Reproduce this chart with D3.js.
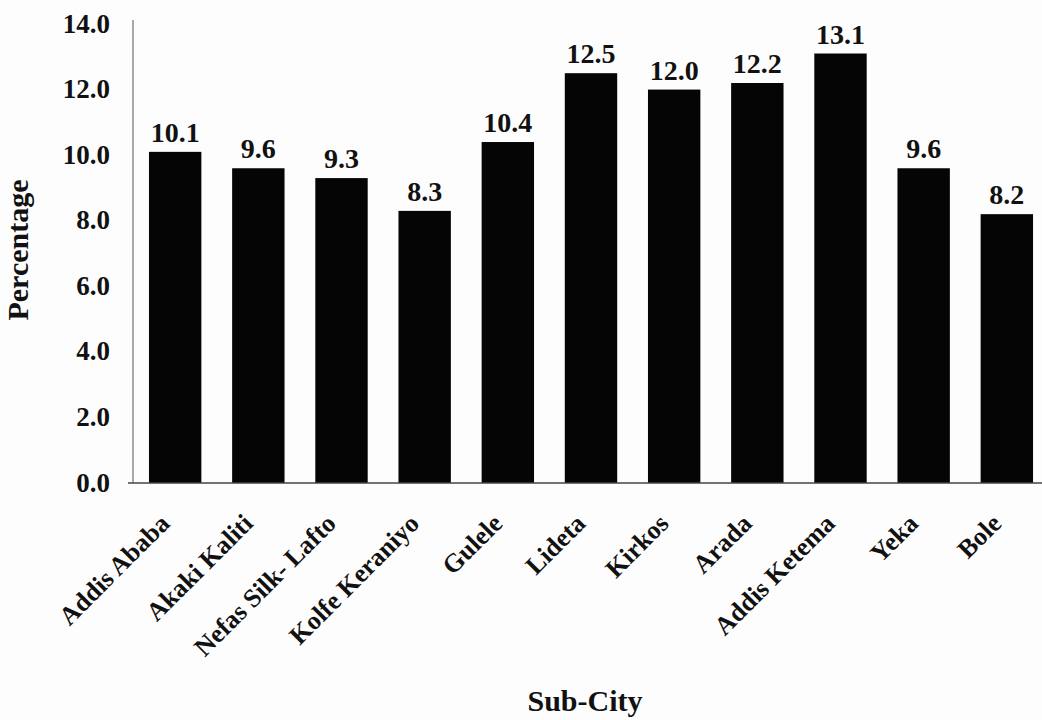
<!DOCTYPE html>
<html>
<head>
<meta charset="utf-8">
<script src="https://cdn.jsdelivr.net/npm/d3@7"></script>
<style>
  body { margin: 0; background: #fdfdfd; }
  text { font-family: "Liberation Serif", "Times New Roman", serif; font-weight: bold; fill: #111; }
</style>
</head>
<body>
<div id="chart"></div>
<script>
// sub-cities and their percentage
var subCities = ["Addis Ababa", "Akaki Kaliti", "Nefas Silk- Lafto", "Kolfe Keraniyo", "Gulele",
  "Lideta", "Kirkos", "Arada", "Addis Ketema", "Yeka", "Bole"];
var percentages = [10.1, 9.6, 9.3, 8.3, 10.4, 12.5, 12.0, 12.2, 13.1, 9.6, 8.2];
var yTicks = [0, 2, 4, 6, 8, 10, 12, 14];

var width = 1042, height = 720;
var originX = 133, baseY = 483;

var svg = d3.select("#chart")
  .append("svg")
  .attr("width", width)
  .attr("height", height);

var x = d3.scaleBand()
  .domain(subCities)
  .range([134, 1048])
  .paddingInner(0.37)
  .paddingOuter(0.18);

var y = d3.scaleLinear()
  .domain([0, 14])
  .range([baseY, 24]);

// Y axis
var yAxis = svg.append("g")
  .attr("transform", "translate(" + originX + ",0)")
  .call(d3.axisLeft(y).tickValues(yTicks).tickSize(0).tickPadding(23).tickFormat(d3.format(".1f")));
yAxis.select(".domain").attr("stroke", "#555").attr("d", "M0," + baseY + "V20");
yAxis.selectAll("text").style("font-size", "27px").attr("dy", "0.3em");

// bars
svg.selectAll("rect.bar")
  .data(percentages)
  .enter()
  .append("rect")
  .attr("class", "bar")
  .attr("x", function (d, i) { return x(subCities[i]); })
  .attr("y", function (d) { return y(d); })
  .attr("width", x.bandwidth())
  .attr("height", function (d) { return baseY - y(d); })
  .attr("fill", "#050505");

// X axis line
svg.append("line")
  .attr("x1", 128).attr("x2", width)
  .attr("y1", baseY).attr("y2", baseY)
  .attr("stroke", "#444").attr("stroke-width", 1.5);

// value labels
svg.selectAll("text.value")
  .data(percentages)
  .enter()
  .append("text")
  .attr("class", "value")
  .attr("x", function (d, i) { return x(subCities[i]) + x.bandwidth() / 2; })
  .attr("y", function (d) { return y(d) - 10; })
  .attr("text-anchor", "middle")
  .style("font-size", "28px")
  .text(function (d) { return d.toFixed(1); });

// category labels, slanted
svg.selectAll("text.cat")
  .data(subCities)
  .enter()
  .append("text")
  .attr("class", "cat")
  .attr("transform", function (d) {
    return "translate(" + (x(d) + x.bandwidth() / 2 - 4) + ",525) rotate(-45)";
  })
  .attr("text-anchor", "end")
  .style("font-size", "26px")
  .text(function (d) { return d; });

// axis titles
svg.append("text")
  .attr("transform", "translate(28,250) rotate(-90)")
  .attr("text-anchor", "middle")
  .style("font-size", "30px")
  .text("Percentage");

svg.append("text")
  .attr("x", 585)
  .attr("y", 711)
  .attr("text-anchor", "middle")
  .style("font-size", "30px")
  .text("Sub-City");
</script>
</body>
</html>
